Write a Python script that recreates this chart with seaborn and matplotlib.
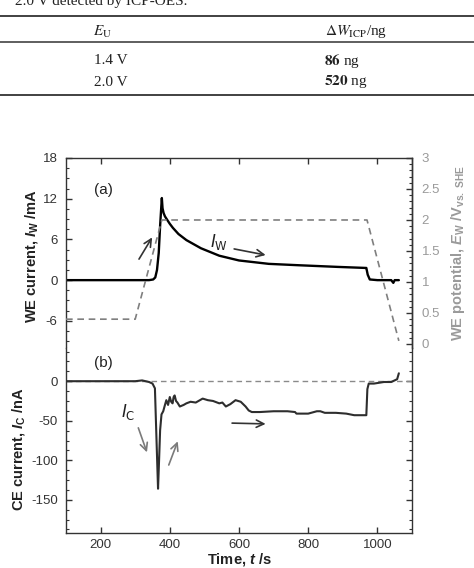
import matplotlib
matplotlib.use('Agg')
import matplotlib.pyplot as plt
from matplotlib.ticker import MultipleLocator, FixedLocator
from matplotlib.lines import Line2D
import seaborn as sns

# ---------------- data ----------------
t_iw = [100, 340, 352, 358, 363, 368, 372, 375, 377, 379, 382, 386, 391, 400, 409, 425, 448,
        490, 543, 600, 686, 771, 886, 965, 968, 972, 978, 1000, 1040, 1046, 1050, 1062]
iw = [0, 0, 0.1, 0.4, 1.5, 4.0, 8.0, 10.5, 12.1, 10.6, 9.9, 9.4, 9.0, 8.3, 7.7, 6.8, 5.9,
      4.7, 3.6, 2.9, 2.4, 2.2, 1.95, 1.8, 1.8, 0.8, 0.1, 0, 0, -0.4, 0, 0]

t_e = [100, 300, 377, 970, 1062]
e_w = [0.4, 0.4, 2.0, 2.0, 0.05]

t_ic = [100, 300, 320, 330, 340, 350, 357, 362, 366, 369, 372, 376, 381, 386, 390, 395, 400,
        404, 408, 411, 414, 418, 422, 429, 440, 448, 460, 475, 495, 510, 525, 543, 552, 562,
        575, 590, 605, 619, 628, 637, 660, 700, 740, 762, 766, 800, 825, 835, 848, 880, 910,
        933, 945, 968, 971, 975, 990, 1019, 1040, 1057, 1062]
ic = [0, 0, 1, 0, -1, -3, -9, -80, -136, -100, -62, -42, -38, -30, -24, -30, -20,
      -26, -28, -20, -18, -25, -27, -32, -30, -28, -26, -27, -22, -24, -25, -28, -27, -32,
      -29, -24, -26, -32, -37, -39, -39, -38, -38, -39, -41, -41, -38, -38, -40, -40, -41,
      -43, -43, -43, -10, -3, -3, -1, -1, 2.5, 10]

table_eu = ["1.4 V", "2.0 V"]
table_dw = ["86", "520"]

x_ticks = [200, 400, 600, 800, 1000]
iw_ticks = [-6, 0, 6, 12, 18]
ew_ticks = [0, 0.5, 1, 1.5, 2, 2.5, 3]
ic_ticks = [0, -50, -100, -150]

# ---------------- style ----------------
sns.set_theme(style='ticks')
plt.rcParams['font.family'] = ['Liberation Sans', 'DejaVu Sans']
plt.rcParams['axes.unicode_minus'] = False
plt.rcParams['mathtext.fontset'] = 'custom'
plt.rcParams['mathtext.rm'] = 'Liberation Sans:bold'
plt.rcParams['mathtext.it'] = 'Liberation Sans:italic:bold'
plt.rcParams['mathtext.bf'] = 'Liberation Sans:bold'

W, H = 474, 568
fig = plt.figure(figsize=(W / 100, H / 100), dpi=100)

def fx(px):
    return px / W

def fy(py):
    return 1 - py / H

# ---------------- table ----------------
serif = ['Liberation Serif', 'DejaVu Serif']
tfs = 11
fig.text(fx(15), fy(5), "2.0 V detected by ICP-OES.", fontsize=tfs, family=serif,
         color='#222', va='baseline', ha='left')
for yy, lw in [(15.5, 1.3), (42, 1.1), (95, 1.3)]:
    fig.add_artist(Line2D([0, 1], [fy(yy), fy(yy)], transform=fig.transFigure,
                          color='#333', lw=lw))
fig.text(fx(93), fy(32), r"$E_\mathrm{U}$", fontsize=tfs, family=serif,
         math_fontfamily='stix', va='center', ha='left', color='#222')
fig.text(fx(325), fy(32), r"$\Delta W_\mathrm{ICP}$/ng", fontsize=tfs, family=serif,
         math_fontfamily='stix', va='center', ha='left', color='#222')
for i, (eu, dw) in enumerate(zip(table_eu, table_dw)):
    yy = [61, 82][i]
    fig.text(fx(94), fy(yy), eu, fontsize=tfs, family=serif, va='center', ha='left',
             color='#222')
    fig.text(fx(324), fy(yy), r"$\mathbf{" + dw + r"}$ ng", fontsize=tfs, family=serif,
             math_fontfamily='stix', va='center', ha='left', color='#222')

# ---------------- chart axes ----------------
L, R = 66, 412
TOP, MID, BOT = 158, 348, 533
ax_a = fig.add_axes([fx(L), fy(MID), (R - L) / W, (MID - TOP) / H])
ax_b = fig.add_axes([fx(L), fy(BOT), (R - L) / W, (BOT - MID) / H], sharex=ax_a)
ax_r = ax_a.twinx()

dash = (0, (4, 2.8))
sns.lineplot(x=t_iw, y=iw, ax=ax_a, color='black', lw=1.7, estimator=None, sort=False)
sns.lineplot(x=t_e, y=e_w, ax=ax_r, color='#7f7f7f', lw=1.2, linestyle=dash,
             estimator=None, sort=False)
ax_b.axhline(0, color='#8a8a8a', lw=1.0, linestyle=dash, zorder=1)
sns.lineplot(x=t_ic, y=ic, ax=ax_b, color='#2e2e2e', lw=1.5, estimator=None, sort=False)

ax_a.set_xlim(100, 1100)
ax_a.set_ylim(-10, 18)
ax_r.set_ylim(-0.065, 3)
ax_b.set_ylim(-192, 42)

spc = '#333333'
for ax in (ax_a, ax_b, ax_r):
    for s in ax.spines.values():
        s.set_color(spc)
        s.set_linewidth(1.0)
ax_a.spines['bottom'].set_visible(False)
ax_b.spines['top'].set_visible(False)
for s in ('top', 'bottom', 'left'):
    ax_r.spines[s].set_visible(False)

ax_b.xaxis.set_major_locator(FixedLocator(x_ticks))
ax_a.yaxis.set_major_locator(FixedLocator(iw_ticks))
ax_a.yaxis.set_minor_locator(MultipleLocator(1.5))
ax_r.yaxis.set_major_locator(FixedLocator(ew_ticks))
ax_r.yaxis.set_minor_locator(MultipleLocator(0.1))
ax_b.yaxis.set_major_locator(FixedLocator(ic_ticks))
ax_b.yaxis.set_minor_locator(MultipleLocator(12.5))
ax_r.set_yticklabels(['0', '0.5', '1', '1.5', '2', '2.5', '3'])

ax_a.tick_params(axis='x', which='both', bottom=False, top=True, labelbottom=False,
                 labeltop=False, direction='in', length=4, width=1, color=spc)
ax_a.tick_params(axis='y', which='major', left=True, right=False, direction='in',
                 length=4, width=1, color=spc, labelsize=9.5, labelcolor='#333', pad=6)
ax_a.tick_params(axis='y', which='minor', left=True, right=False, direction='in',
                 length=2.5, width=0.8, color=spc)
ax_r.tick_params(axis='y', which='major', right=True, left=False, direction='in',
                 length=4, width=1, color=spc, labelsize=9.5, labelcolor='#9a9a9a', pad=7)
ax_r.tick_params(axis='y', which='minor', right=True, direction='in', length=2.5,
                 width=0.8, color=spc)
ax_b.tick_params(axis='x', which='both', bottom=True, top=False, direction='in',
                 length=4, width=1, color=spc, labelsize=9.5, labelcolor='#333', pad=4)
ax_b.tick_params(axis='y', which='major', left=True, right=True, labelright=False,
                 direction='in', length=4, width=1, color=spc, labelsize=9.5,
                 labelcolor='#333', pad=6)
ax_b.tick_params(axis='y', which='minor', left=True, right=True, direction='in',
                 length=2.5, width=0.8, color=spc)
ax_b.xaxis.set_minor_locator(FixedLocator([]))
ax_a.xaxis.set_minor_locator(FixedLocator([]))

# ---------------- labels ----------------
lfs = 10.5
lab = dict(fontsize=lfs, fontweight='bold', color='#222')
ax_a.set_xlabel('')
ax_a.set_ylabel(r"WE current, $I_\mathrm{W}$ /mA", **lab)
ax_a.yaxis.set_label_coords((32 - L) / (R - L), (MID - 256) / (MID - TOP))
ax_a.yaxis.label.set_va('center')
ax_r.set_ylabel(r"WE potential, $E_\mathrm{W}$ /V$_\mathrm{vs.\ SHE}$", fontsize=lfs,
                fontweight='bold', color='#9a9a9a')
ax_r.yaxis.set_label_coords((458 - L) / (R - L), (MID - 253) / (MID - TOP))
ax_r.yaxis.label.set_va('center')
ax_b.set_ylabel(r"CE current, $I_\mathrm{C}$ /nA", **lab)
ax_b.yaxis.set_label_coords((18 - L) / (R - L), (BOT - 449) / (BOT - MID))
ax_b.yaxis.label.set_va('center')
ax_b.set_xlabel(r"Time, $t$ /s", **lab)
ax_b.xaxis.set_label_coords(0.5, -(559 - BOT) / (BOT - MID))
ax_b.xaxis.label.set_va('center')

# ---------------- annotations ----------------
ax_a.text(209, 13.3, "(a)", fontsize=11, ha='center', va='center', color='#222')
ax_b.text(209, 22.7, "(b)", fontsize=11, ha='center', va='center', color='#222')
ax_a.text(516, 4.87, r"$I_\mathrm{W}$", fontsize=12, math_fontfamily='dejavusans',
          ha='left', va='baseline', color='#222')
ax_b.text(258, -45.4, r"$I_\mathrm{C}$", fontsize=12, math_fontfamily='dejavusans',
          ha='left', va='baseline', color='#222')

arr = dict(arrowstyle='->,head_length=0.45,head_width=0.22', lw=1.2, shrinkA=0, shrinkB=0)
ax_a.annotate('', xy=(349, 6.3), xytext=(311, 3.1), arrowprops=dict(color='#333', **arr))
ax_a.annotate('', xy=(677, 3.7), xytext=(586, 4.6), arrowprops=dict(color='#333', **arr))
ax_b.annotate('', xy=(334, -90), xytext=(309, -59), arrowprops=dict(color='#7a7a7a', **arr))
ax_b.annotate('', xy=(423, -76), xytext=(397, -106), arrowprops=dict(color='#7a7a7a', **arr))
ax_b.annotate('', xy=(677, -54), xytext=(580, -53), arrowprops=dict(color='#333', **arr))

fig.savefig('out.png', dpi=100)
